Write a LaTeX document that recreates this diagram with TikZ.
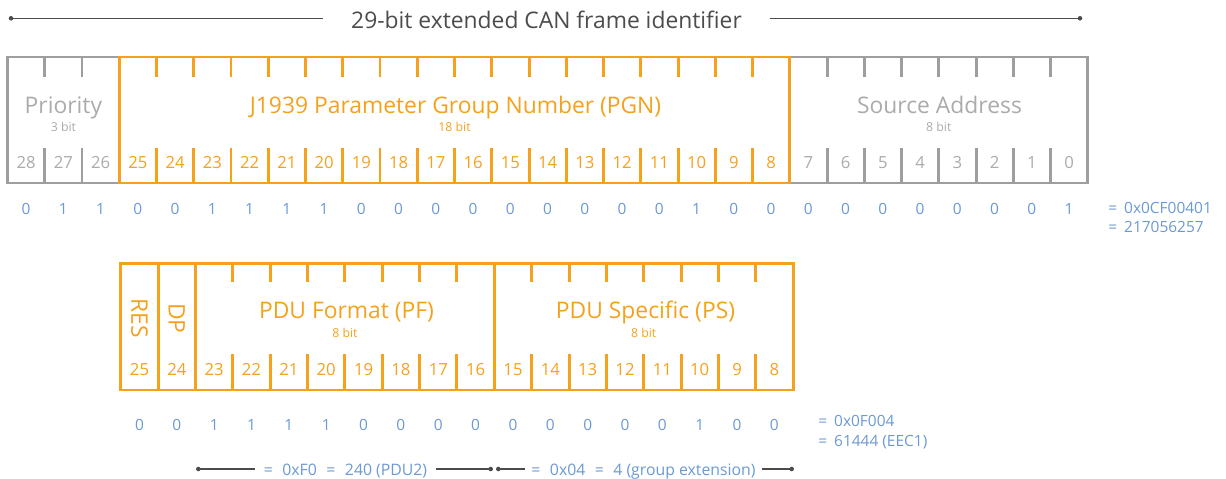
\documentclass[tikz,border=0pt]{standalone}
\usepackage{fontspec}
\setmainfont{Open Sans}
\usepackage{xcolor}

\begin{document}
\begin{tikzpicture}[x=0.02cm,y=-0.02cm,
  gbox/.style={draw=cgray,line width=1.7pt},
  obox/.style={draw=corange,line width=1.7pt},
  gtick/.style={draw=cgray,line width=1.7pt},
  otick/.style={draw=corange,line width=1.7pt},
  gtitle/.style={anchor=base,text=cgtext,font=\fontsize{13}{15}\selectfont},
  otitle/.style={anchor=base,text=corange,font=\fontsize{13}{15}\selectfont},
  gsize/.style={anchor=base,text=cgtext,font=\fontsize{7}{8}\selectfont},
  osize/.style={anchor=base,text=corange,font=\fontsize{7}{8}\selectfont},
  gnum/.style={anchor=base,text=cgtext,font=\fontsize{9.5}{11}\selectfont},
  onum/.style={anchor=base,text=corange,font=\fontsize{9.5}{11}\selectfont},
  bval/.style={anchor=base,text=cblue,font=\fontsize{8.8}{10}\selectfont},
  bsum/.style={bval,anchor=base west,inner sep=0pt},
  dimline/.style={draw=cdim,line width=0.6pt},
  dimtext/.style={bval,inner ysep=0pt,font=\fontsize{9}{10}\selectfont}]
\definecolor{corange}{rgb}{0.96,0.63,0.11}
\definecolor{cgray}{rgb}{0.62,0.62,0.62}
\definecolor{cgtext}{rgb}{0.67,0.67,0.67}
\definecolor{cblue}{rgb}{0.42,0.60,0.84}
\definecolor{cdim}{rgb}{0.30,0.30,0.30}
\definecolor{ctitle}{rgb}{0.30,0.30,0.30}
\useasboundingbox (0,0) rectangle (1226,479);
%
\coordinate (idl) at (11,18.3);
\coordinate (idr) at (1080,18.3);
\node[anchor=base,text=ctitle,font=\fontsize{13}{15}\selectfont,inner xsep=0.56cm] (id) at (546.5,28.3) {29-bit extended CAN frame identifier};
\draw[dimline] (idl) -- (idl -| id.west);
\draw[dimline] (id.east |- idr) -- (idr);
\fill[cdim] (idl) circle (1.3pt);
\fill[cdim] (idr) circle (1.3pt);
%
\draw[gbox] (7.5,57) rectangle (1087.75,183);
\draw[gtick] (44.75,57) -- (44.75,77) (44.75,148) -- (44.75,183);
\draw[gtick] (82,57) -- (82,77) (82,148) -- (82,183);
\draw[gtick] (827,57) -- (827,77) (827,148) -- (827,183);
\draw[gtick] (864.25,57) -- (864.25,77) (864.25,148) -- (864.25,183);
\draw[gtick] (901.5,57) -- (901.5,77) (901.5,148) -- (901.5,183);
\draw[gtick] (938.75,57) -- (938.75,77) (938.75,148) -- (938.75,183);
\draw[gtick] (976,57) -- (976,77) (976,148) -- (976,183);
\draw[gtick] (1013.25,57) -- (1013.25,77) (1013.25,148) -- (1013.25,183);
\draw[gtick] (1050.5,57) -- (1050.5,77) (1050.5,148) -- (1050.5,183);
\draw[obox] (119.25,57) rectangle (789.75,183);
\draw[otick] (156.5,57) -- (156.5,77) (156.5,148) -- (156.5,183);
\draw[otick] (193.75,57) -- (193.75,77) (193.75,148) -- (193.75,183);
\draw[otick] (231,57) -- (231,77) (231,148) -- (231,183);
\draw[otick] (268.25,57) -- (268.25,77) (268.25,148) -- (268.25,183);
\draw[otick] (305.5,57) -- (305.5,77) (305.5,148) -- (305.5,183);
\draw[otick] (342.75,57) -- (342.75,77) (342.75,148) -- (342.75,183);
\draw[otick] (380,57) -- (380,77) (380,148) -- (380,183);
\draw[otick] (417.25,57) -- (417.25,77) (417.25,148) -- (417.25,183);
\draw[otick] (454.5,57) -- (454.5,77) (454.5,148) -- (454.5,183);
\draw[otick] (491.75,57) -- (491.75,77) (491.75,148) -- (491.75,183);
\draw[otick] (529,57) -- (529,77) (529,148) -- (529,183);
\draw[otick] (566.25,57) -- (566.25,77) (566.25,148) -- (566.25,183);
\draw[otick] (603.5,57) -- (603.5,77) (603.5,148) -- (603.5,183);
\draw[otick] (640.75,57) -- (640.75,77) (640.75,148) -- (640.75,183);
\draw[otick] (678,57) -- (678,77) (678,148) -- (678,183);
\draw[otick] (715.25,57) -- (715.25,77) (715.25,148) -- (715.25,183);
\draw[otick] (752.5,57) -- (752.5,77) (752.5,148) -- (752.5,183);
%
\node[gtitle] (prio) at (63.4,113.3) {Priority};
\node[gsize] (priobits) at (63.4,131.7) {3 bit};
\node[otitle] (pgn) at (455.5,113.3) {J1939 Parameter Group Number (PGN)};
\node[osize] (pgnbits) at (454.5,131.7) {18 bit};
\node[gtitle] (sa) at (939.5,113.3) {Source Address};
\node[gsize] (sabits) at (938.75,131.7) {8 bit};
%
\node[gnum] (t28) at (26.1,168.3) {28};
\node[gnum] (t27) at (63.4,168.3) {27};
\node[gnum] (t26) at (100.6,168.3) {26};
\node[onum] (t25) at (137.9,168.3) {25};
\node[onum] (t24) at (175.1,168.3) {24};
\node[onum] (t23) at (212.4,168.3) {23};
\node[onum] (t22) at (249.6,168.3) {22};
\node[onum] (t21) at (286.9,168.3) {21};
\node[onum] (t20) at (324.1,168.3) {20};
\node[onum] (t19) at (361.4,168.3) {19};
\node[onum] (t18) at (398.6,168.3) {18};
\node[onum] (t17) at (435.9,168.3) {17};
\node[onum] (t16) at (473.1,168.3) {16};
\node[onum] (t15) at (510.4,168.3) {15};
\node[onum] (t14) at (547.6,168.3) {14};
\node[onum] (t13) at (584.9,168.3) {13};
\node[onum] (t12) at (622.1,168.3) {12};
\node[onum] (t11) at (659.4,168.3) {11};
\node[onum] (t10) at (696.6,168.3) {10};
\node[onum] (t9) at (733.9,168.3) {9};
\node[onum] (t8) at (771.1,168.3) {8};
\node[gnum] (t7) at (808.4,168.3) {7};
\node[gnum] (t6) at (845.6,168.3) {6};
\node[gnum] (t5) at (882.9,168.3) {5};
\node[gnum] (t4) at (920.1,168.3) {4};
\node[gnum] (t3) at (957.4,168.3) {3};
\node[gnum] (t2) at (994.6,168.3) {2};
\node[gnum] (t1) at (1031.9,168.3) {1};
\node[gnum] (t0) at (1069.1,168.3) {0};
%
\node[bval] (tv28) at (26.1,215) {0};
\node[bval] (tv27) at (63.4,215) {1};
\node[bval] (tv26) at (100.6,215) {1};
\node[bval] (tv25) at (137.9,215) {0};
\node[bval] (tv24) at (175.1,215) {0};
\node[bval] (tv23) at (212.4,215) {1};
\node[bval] (tv22) at (249.6,215) {1};
\node[bval] (tv21) at (286.9,215) {1};
\node[bval] (tv20) at (324.1,215) {1};
\node[bval] (tv19) at (361.4,215) {0};
\node[bval] (tv18) at (398.6,215) {0};
\node[bval] (tv17) at (435.9,215) {0};
\node[bval] (tv16) at (473.1,215) {0};
\node[bval] (tv15) at (510.4,215) {0};
\node[bval] (tv14) at (547.6,215) {0};
\node[bval] (tv13) at (584.9,215) {0};
\node[bval] (tv12) at (622.1,215) {0};
\node[bval] (tv11) at (659.4,215) {0};
\node[bval] (tv10) at (696.6,215) {1};
\node[bval] (tv9) at (733.9,215) {0};
\node[bval] (tv8) at (771.1,215) {0};
\node[bval] (tv7) at (808.4,215) {0};
\node[bval] (tv6) at (845.6,215) {0};
\node[bval] (tv5) at (882.9,215) {0};
\node[bval] (tv4) at (920.1,215) {0};
\node[bval] (tv3) at (957.4,215) {0};
\node[bval] (tv2) at (994.6,215) {0};
\node[bval] (tv1) at (1031.9,215) {0};
\node[bval] (tv0) at (1069.1,215) {1};
\node[bsum] (thex) at (1108,213.3) {=\hspace{0.45em}0x0CF00401};
\node[bsum] (tdec) at (1108,232.5) {=\hspace{0.45em}217056257};
%
\draw[obox] (120.8,263.5) rectangle (793.1,390);
\draw[otick] (158.15,263.5) -- (158.15,390);
\draw[otick] (195.5,263.5) -- (195.5,390);
\draw[otick] (494.3,263.5) -- (494.3,390);
\draw[otick] (232.85,263.5) -- (232.85,282.5) (232.85,354) -- (232.85,390);
\draw[otick] (270.2,263.5) -- (270.2,282.5) (270.2,354) -- (270.2,390);
\draw[otick] (307.55,263.5) -- (307.55,282.5) (307.55,354) -- (307.55,390);
\draw[otick] (344.9,263.5) -- (344.9,282.5) (344.9,354) -- (344.9,390);
\draw[otick] (382.25,263.5) -- (382.25,282.5) (382.25,354) -- (382.25,390);
\draw[otick] (419.6,263.5) -- (419.6,282.5) (419.6,354) -- (419.6,390);
\draw[otick] (456.95,263.5) -- (456.95,282.5) (456.95,354) -- (456.95,390);
\draw[otick] (531.65,263.5) -- (531.65,282.5) (531.65,354) -- (531.65,390);
\draw[otick] (569,263.5) -- (569,282.5) (569,354) -- (569,390);
\draw[otick] (606.35,263.5) -- (606.35,282.5) (606.35,354) -- (606.35,390);
\draw[otick] (643.7,263.5) -- (643.7,282.5) (643.7,354) -- (643.7,390);
\draw[otick] (681.05,263.5) -- (681.05,282.5) (681.05,354) -- (681.05,390);
\draw[otick] (718.4,263.5) -- (718.4,282.5) (718.4,354) -- (718.4,390);
\draw[otick] (755.75,263.5) -- (755.75,282.5) (755.75,354) -- (755.75,390);
%
\node[otitle,anchor=center,rotate=-90] (res) at (139.5,318.5) {RES};
\node[otitle,anchor=center,rotate=-90] (dp) at (176.8,318.5) {DP};
\node[otitle] (pf) at (346.5,318.3) {PDU Format (PF)};
\node[osize] (pfbits) at (344.9,337.3) {8 bit};
\node[otitle] (ps) at (645.5,318.3) {PDU Specific (PS)};
\node[osize] (psbits) at (643.7,337.3) {8 bit};
%
\node[onum] (l25) at (139.5,375) {25};
\node[onum] (l24) at (176.8,375) {24};
\node[onum] (l23) at (214.2,375) {23};
\node[onum] (l22) at (251.5,375) {22};
\node[onum] (l21) at (288.9,375) {21};
\node[onum] (l20) at (326.2,375) {20};
\node[onum] (l19) at (363.6,375) {19};
\node[onum] (l18) at (400.9,375) {18};
\node[onum] (l17) at (438.3,375) {17};
\node[onum] (l16) at (475.6,375) {16};
\node[onum] (l15) at (513,375) {15};
\node[onum] (l14) at (550.3,375) {14};
\node[onum] (l13) at (587.7,375) {13};
\node[onum] (l12) at (625,375) {12};
\node[onum] (l11) at (662.4,375) {11};
\node[onum] (l10) at (699.7,375) {10};
\node[onum] (l9) at (737.1,375) {9};
\node[onum] (l8) at (774.4,375) {8};
%
\node[bval] (lv25) at (139.5,430) {0};
\node[bval] (lv24) at (176.8,430) {0};
\node[bval] (lv23) at (214.2,430) {1};
\node[bval] (lv22) at (251.5,430) {1};
\node[bval] (lv21) at (288.9,430) {1};
\node[bval] (lv20) at (326.2,430) {1};
\node[bval] (lv19) at (363.6,430) {0};
\node[bval] (lv18) at (400.9,430) {0};
\node[bval] (lv17) at (438.3,430) {0};
\node[bval] (lv16) at (475.6,430) {0};
\node[bval] (lv15) at (513,430) {0};
\node[bval] (lv14) at (550.3,430) {0};
\node[bval] (lv13) at (587.7,430) {0};
\node[bval] (lv12) at (625,430) {0};
\node[bval] (lv11) at (662.4,430) {0};
\node[bval] (lv10) at (699.7,430) {1};
\node[bval] (lv9) at (737.1,430) {0};
\node[bval] (lv8) at (774.4,430) {0};
\node[bsum] (lhex) at (818,426.7) {=\hspace{0.45em}0x0F004};
\node[bsum] (ldec) at (818,446.3) {=\hspace{0.45em}61444 (EEC1)};
%
\coordinate (pfl) at (198.3,469);
\coordinate (pfr) at (490.7,469);
\coordinate (psl) at (498.3,469);
\coordinate (psr) at (791.7,469);
\node[dimtext,inner xsep=0.17cm] (pfval) at (345.5,475) {=\hspace{0.6em}0xF0\hspace{0.6em}=\hspace{0.6em}240 (PDU2)};
\node[dimtext,inner xsep=0.13cm] (psval) at (643.5,475) {=\hspace{0.6em}0x04\hspace{0.6em}=\hspace{0.6em}4 (group extension)};
\draw[dimline] (pfl) -- (pfl -| pfval.west);
\draw[dimline] (pfval.east |- pfr) -- (pfr);
\draw[dimline] (psl) -- (psl -| psval.west);
\draw[dimline] (psval.east |- psr) -- (psr);
\fill[cdim] (pfl) circle (1.3pt);
\fill[cdim] (pfr) circle (1.3pt);
\fill[cdim] (psl) circle (1.3pt);
\fill[cdim] (psr) circle (1.3pt);
%
\end{tikzpicture}
\end{document}
